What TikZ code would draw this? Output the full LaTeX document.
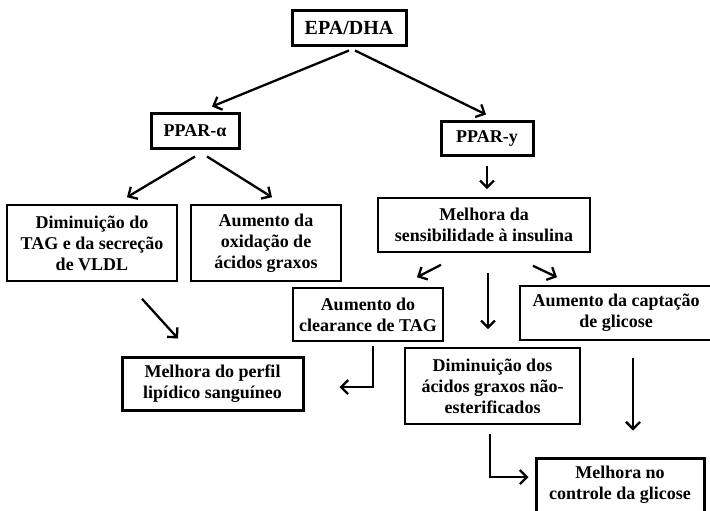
\documentclass[tikz,border=0pt]{standalone}
\usepackage{fontspec}
\setmainfont{Liberation Serif}
\usetikzlibrary{arrows.meta}

\begin{document}
\begin{tikzpicture}[x=0.5pt,y=-0.5pt,
	box/.style={draw, line width=0.8pt, align=center, inner sep=0pt,
		font=\bfseries\fontsize{9}{10.5}\selectfont},
	thickbox/.style={box, line width=1.5pt},
	arr/.style={-{Straight Barb[length=3.5pt,width=7pt]}, line width=1.15pt}]
	\useasboundingbox (0,0) rectangle (710,510);
	%% Top
	\node[thickbox, minimum width=57pt, minimum height=17.5pt,
		font=\bfseries\fontsize{10}{12}\selectfont] (epa) at (349,27.5) {EPA/DHA};
	\node[thickbox, minimum width=44pt, minimum height=17.5pt] (ppara) at (195,130.5) {PPAR-α};
	\node[thickbox, minimum width=46pt, minimum height=17pt] (ppary) at (487,138) {PPAR-y};
	%% PPAR-alpha branch
	\node[box, minimum width=85pt, minimum height=38pt] (vldl) at (92,243)
		{Diminuição do\\TAG e da secreção\\de VLDL};
	\node[box, minimum width=75pt, minimum height=38pt] (oxid) at (266,243)
		{Aumento da\\oxidação de\\ácidos graxos};
	\node[thickbox, minimum width=90.5pt, minimum height=26.5pt] (perfil) at (212.5,383.5)
		{Melhora do perfil\\lipídico sanguíneo};
	%% PPAR-y branch
	\node[box, minimum width=106pt, minimum height=27pt] (insul) at (484,225)
		{Melhora da\\sensibilidade à insulina};
	\node[box, minimum width=75pt, minimum height=26.5pt] (clear) at (368,314.5)
		{Aumento do\\clearance de TAG};
	\node[box, minimum width=96pt, minimum height=27pt] (capt) at (616,313)
		{Aumento da captação\\de glicose};
	\node[box, minimum width=87.5pt, minimum height=38pt] (nesterif) at (492.5,386)
		{Diminuição dos\\ácidos graxos não-\\esterificados};
	\node[thickbox, minimum width=84pt, minimum height=27pt] (glic) at (620,485)
		{Melhora no\\controle da glicose};
	%% Arrows
	\draw[arr] ([yshift=-2pt]epa.south) -- ([xshift=8.5pt,yshift=2.5pt]ppara.north);
	\draw[arr] ([xshift=3pt,yshift=-2pt]epa.south) -- ([xshift=-0.5pt,yshift=2.5pt]ppary.north);
	\draw[arr] ([yshift=-3.5pt]ppara.south) -- ([xshift=17.5pt,yshift=3.5pt]vldl.north);
	\draw[arr] ([xshift=6pt,yshift=-3.5pt]ppara.south) -- ([xshift=3pt,yshift=3.5pt]oxid.north);
	\draw[arr] ([yshift=-4.5pt]ppary.south) -- ([xshift=1.5pt,yshift=4pt]insul.north);
	\draw[arr] ([xshift=-21.5pt,yshift=-6pt]insul.south) -- ([xshift=24.5pt,yshift=5pt]clear.north);
	\draw[arr] ([xshift=24.5pt,yshift=-6.5pt]insul.south) -- ([xshift=-29.5pt,yshift=4pt]capt.north);
	\draw[arr] ([xshift=2pt,yshift=-10pt]insul.south) -- ([xshift=-2.25pt,yshift=9pt]nesterif.north);
	\draw[arr] ([xshift=25pt,yshift=-8.5pt]vldl.south) -- ([xshift=-17.25pt,yshift=8.5pt]perfil.north);
	\draw[arr] ([xshift=2.5pt,yshift=-2pt]clear.south) |- ([xshift=17.5pt,yshift=-1.75pt]perfil.east);
	\draw[arr] ([xshift=-1.25pt,yshift=-4.5pt]nesterif.south) |- ([xshift=-3pt,yshift=4pt]glic.west);
	\draw[arr] ([xshift=8.5pt,yshift=-8.5pt]capt.south) -- ([xshift=6.5pt,yshift=13pt]glic.north);
\end{tikzpicture}
\end{document}
